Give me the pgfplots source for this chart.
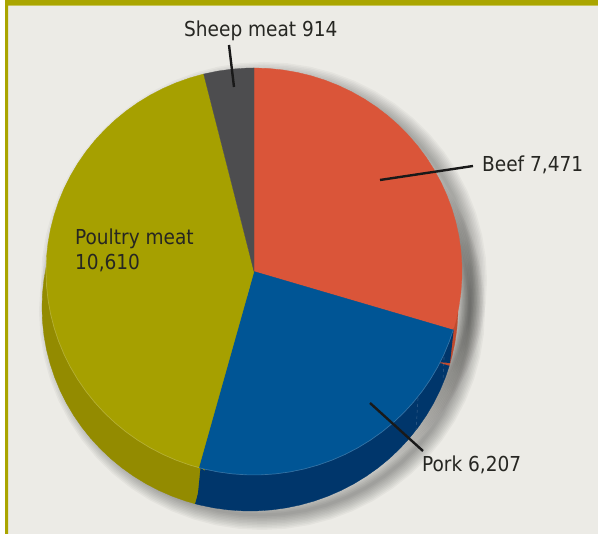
\documentclass[border=0pt]{standalone}
\usepackage{pgfplots}
\usepackage{pgfplotstable}
\usepackage{fontspec}
\setmainfont{DejaVu Sans Condensed}
\pgfplotsset{compat=1.18}
\definecolor{bgc}{HTML}{ECEBE6}
\definecolor{borderc}{HTML}{AAA500}
\definecolor{beefc}{HTML}{DA5539}
\definecolor{porkc}{HTML}{005595}
\definecolor{poultc}{HTML}{A6A000}
\definecolor{sheepc}{HTML}{4D4D4F}
\definecolor{beefd}{HTML}{C04A2E}
\definecolor{porkd}{HTML}{00366B}
\definecolor{poultd}{HTML}{938B00}
\definecolor{txt}{HTML}{262622}
\pgfplotstableread[row sep=\\]{a r\\90 0\\90 1\\86 1\\82 1\\78 1\\74 1\\70 1\\66 1\\62 1\\58 1\\54 1\\50 1\\46 1\\42 1\\38 1\\34 1\\30 1\\26 1\\22 1\\18 1\\14 1\\10 1\\6 1\\2 1\\-2 1\\-6 1\\-10 1\\-14 1\\-16.7 1\\}\beef
\pgfplotstableread[row sep=\\]{a r\\-16.7 0\\-16.7 1\\-20 1\\-24 1\\-28 1\\-32 1\\-36 1\\-40 1\\-44 1\\-48 1\\-52 1\\-56 1\\-60 1\\-64 1\\-68 1\\-72 1\\-76 1\\-80 1\\-84 1\\-88 1\\-92 1\\-96 1\\-100 1\\-104 1\\-105.4 1\\}\pork
\pgfplotstableread[row sep=\\]{a r\\-105.4 0\\-105.4 1\\-108 1\\-112 1\\-116 1\\-120 1\\-124 1\\-128 1\\-132 1\\-136 1\\-140 1\\-144 1\\-148 1\\-152 1\\-156 1\\-160 1\\-164 1\\-168 1\\-172 1\\-176 1\\-180 1\\-184 1\\-188 1\\-192 1\\-196 1\\-200 1\\-204 1\\-208 1\\-212 1\\-216 1\\-220 1\\-224 1\\-228 1\\-232 1\\-236 1\\-240 1\\-244 1\\-248 1\\-252 1\\-256 1\\}\poultry
\pgfplotstableread[row sep=\\]{a r\\-256 0\\-256 1\\-260 1\\-264 1\\-268 1\\-270 1\\}\sheep
\pgfplotstableread[row sep=\\]{a r\\-16.7 1\\-20 1\\-24 1\\-28 1\\-32 1\\-36 1\\-40 1\\-44 1\\-48 1\\-52 1\\-56 1\\-60 1\\-64 1\\-68 1\\-72 1\\-76 1\\-80 1\\-84 1\\-88 1\\-92 1\\-96 1\\-100 1\\-104 1\\-108 1\\-112 1\\-116 1\\-120 1\\-124 1\\-128 1\\-132 1\\-136 1\\-140 1\\-144 1\\-148 1\\-152 1\\-156 1\\-160 1\\-164 1\\-168 1\\-172 1\\-176 1\\-180 1\\-184 1\\}\rim
\pgfplotstableread[row sep=\\]{a r\\0 1\\6 1\\12 1\\18 1\\24 1\\30 1\\36 1\\42 1\\48 1\\54 1\\60 1\\66 1\\72 1\\78 1\\84 1\\90 1\\96 1\\102 1\\108 1\\114 1\\120 1\\126 1\\132 1\\138 1\\144 1\\150 1\\156 1\\162 1\\168 1\\174 1\\180 1\\186 1\\192 1\\198 1\\204 1\\210 1\\216 1\\222 1\\228 1\\234 1\\240 1\\246 1\\252 1\\258 1\\264 1\\270 1\\276 1\\282 1\\288 1\\294 1\\300 1\\306 1\\312 1\\318 1\\324 1\\330 1\\336 1\\342 1\\348 1\\354 1\\}\whole
\pgfplotsset{pix/.style={scale only axis,width=598pt,height=534pt,hide axis,xmin=0,xmax=598,ymin=0,ymax=534,y dir=reverse,clip=true}}
\begin{document}
\begin{tikzpicture}
\begin{axis}[pix]
\addplot[fill=white,draw=none] coordinates {(0,0)(598,0)(598,534)(0,534)} --cycle;
\addplot[fill=bgc,draw=none] coordinates {(8,5.7)(598,5.7)(598,534)(8,534)} --cycle;
\addplot[fill=borderc,draw=none] coordinates {(5,0)(598,0)(598,5.7)(8,5.7)(8,534)(5,534)} --cycle;
\end{axis}
\begin{axis}[scale only axis,width=598pt,height=534pt,hide axis,xmin=-1.22115,xmax=1.65385,ymin=-1.28993,ymax=1.33415,clip=true]
% soft shadow
\pgfplotsinvokeforeach{30,27,24,21,18,15,12,9,6,3}{
 \addplot[data cs=polar,draw=black,draw opacity=.03,line width=#1pt,fill=none,xshift=10pt,yshift=-9pt] table[x=a,y=r] {\whole} --cycle;
 \addplot[data cs=polar,draw=black,draw opacity=.035,line width=#1pt,fill=none,xshift=8pt,yshift=-40pt] table[x=a,y=r] {\whole} --cycle;
}
% side wall
\addplot[data cs=polar,fill=beefd,draw=beefd,line width=.3pt,xshift=-4pt,yshift=-36pt] table[x=a,y=r] {\beef} --cycle;
\addplot[data cs=polar,fill=porkd,draw=porkd,line width=.3pt,xshift=-4pt,yshift=-36pt] table[x=a,y=r] {\pork} --cycle;
\addplot[data cs=polar,fill=poultd,draw=poultd,line width=.3pt,xshift=-4pt,yshift=-36pt] table[x=a,y=r] {\poultry} --cycle;
\addplot[fill=porkd,draw=none] coordinates {(-.274,-1.1376)(-.257,-.963)(-.1875,-1.0246)} --cycle;
\addplot[fill=porkd,draw=none] coordinates {(.9423,-.4496)(.9615,-.2727)(.875,-.4447)} --cycle;
% top
\addplot[data cs=polar,fill=beefc,draw=beefc,line width=.3pt] table[x=a,y=r] {\beef} --cycle;
\addplot[data cs=polar,fill=porkc,draw=porkc,line width=.3pt] table[x=a,y=r] {\pork} --cycle;
\addplot[data cs=polar,fill=poultc,draw=poultc,line width=.3pt] table[x=a,y=r] {\poultry} --cycle;
\addplot[data cs=polar,fill=sheepc,draw=sheepc,line width=.3pt] table[x=a,y=r] {\sheep} --cycle;
\addplot[data cs=polar,draw=white,draw opacity=.2,line width=.7pt,fill=none] table[x=a,y=r] {\rim};
\end{axis}
\begin{axis}[pix]
\addplot[draw=white,draw opacity=.15,line width=.7pt,dashed] coordinates {(418,398)(416,431)};
\addplot[draw=white,draw opacity=.15,line width=.7pt,dashed] coordinates {(444,357)(443,381)};
\addplot[draw=black!90,line width=2.4pt] coordinates {(229,45)(234,87)};
\addplot[draw=black!90,line width=2.4pt] coordinates {(380,180)(473,166)};
\addplot[draw=black!90,line width=2.4pt] coordinates {(370,403)(423,451)};
\node[anchor=base west,inner sep=0pt,text=txt,font=\fontsize{20.6}{25}\selectfont] at (axis cs:184,37) {Sheep meat 914};
\node[anchor=base west,inner sep=0pt,text=txt,font=\fontsize{20.6}{25}\selectfont] at (axis cs:482,172) {Beef 7,471};
\node[anchor=base west,inner sep=0pt,text=txt,font=\fontsize{20.6}{25}\selectfont] at (axis cs:422,472) {Pork 6,207};
\node[anchor=base west,inner sep=0pt,text=txt,font=\fontsize{20.6}{25}\selectfont] at (axis cs:75,245) {Poultry meat};
\node[anchor=base west,inner sep=0pt,text=txt,font=\fontsize{20.6}{25}\selectfont] at (axis cs:75,270) {10,610};
\end{axis}
\end{tikzpicture}
\end{document}
